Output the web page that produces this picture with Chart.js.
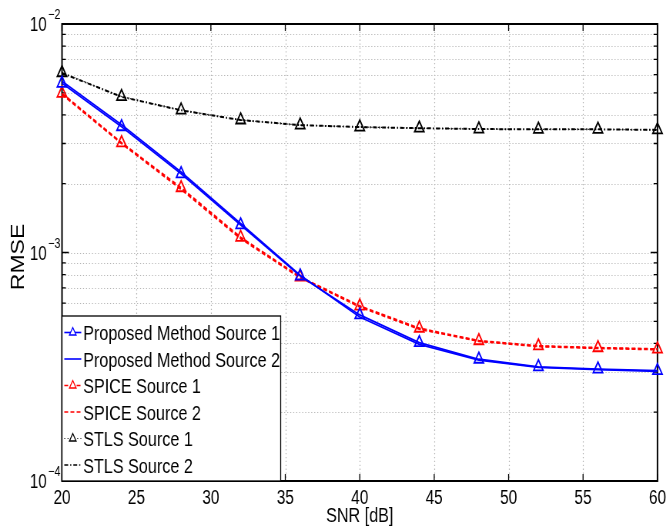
<!DOCTYPE html>
<html>
<head>
<meta charset="utf-8">
<script src="https://cdn.jsdelivr.net/npm/chart.js@4.4.1/dist/chart.umd.min.js"></script>
<style>
  html, body { margin: 0; padding: 0; background: #fff; overflow: hidden; }
  /* figure is laid out wide and squeezed horizontally, like the exported plot */
  #wrap { width: 870px; height: 530px; transform: scaleX(0.77); transform-origin: 0 0; }
</style>
</head>
<body>
<div id="wrap"><canvas id="chart"></canvas></div>
<script>
const snr = [20, 24, 28, 32, 36, 40, 44, 48, 52, 56, 60];

const proposedS1 = [5.50e-3, 3.55e-3, 2.21e-3, 1.32e-3, 7.89e-4, 5.33e-4, 4.03e-4, 3.41e-4, 3.16e-4, 3.09e-4, 3.04e-4];
const proposedS2 = [5.62e-3, 3.62e-3, 2.25e-3, 1.34e-3, 7.95e-4, 5.22e-4, 3.96e-4, 3.38e-4, 3.14e-4, 3.07e-4, 3.02e-4];
const spiceS1 = [4.97e-3, 3.02e-3, 1.92e-3, 1.165e-3, 7.81e-4, 5.83e-4, 4.66e-4, 4.11e-4, 3.90e-4, 3.83e-4, 3.78e-4];
const spiceS2 = [4.92e-3, 3.00e-3, 1.89e-3, 1.15e-3, 7.76e-4, 5.78e-4, 4.62e-4, 4.09e-4, 3.88e-4, 3.81e-4, 3.76e-4];
const stlsS1 = [6.12e-3, 4.81e-3, 4.20e-3, 3.80e-3, 3.61e-3, 3.54e-3, 3.50e-3, 3.47e-3, 3.46e-3, 3.46e-3, 3.44e-3];
const stlsS2 = [6.10e-3, 4.80e-3, 4.19e-3, 3.80e-3, 3.61e-3, 3.54e-3, 3.50e-3, 3.47e-3, 3.46e-3, 3.46e-3, 3.44e-3];

const xTicks = [20, 25, 30, 35, 40, 45, 50, 55, 60];
const yTicks = [
  1e-4, 2e-4, 3e-4, 4e-4, 5e-4, 6e-4, 7e-4, 8e-4, 9e-4,
  1e-3, 2e-3, 3e-3, 4e-3, 5e-3, 6e-3, 7e-3, 8e-3, 9e-3, 1e-2,
];
const yDecades = [1e-4, 1e-3, 1e-2];
const yDecadeExp = ["\u22124", "\u22123", "\u22122"];

const FONT = '"Liberation Sans", Arial, Helvetica, sans-serif';

const pts = (ys) => snr.map((x, i) => ({ x, y: ys[i] }));

function line(label, ys, color, dash, width, marker) {
  return {
    label, data: pts(ys),
    borderColor: color, borderWidth: width, borderDash: dash,
    pointStyle: "triangle", pointRadius: marker ? 7 : 0, pointHoverRadius: 0,
    pointBorderColor: color, pointBorderWidth: 1.8, pointBackgroundColor: "rgba(0,0,0,0)",
    tension: 0, fill: false, clip: false,
  };
}

const DASH = [5, 3];
const DASHDOT = [5, 2.6, 1.5, 2.6];
const DOT = [1.2, 3];

const datasets = [
  line("Proposed Method Source 1", proposedS1, "#0000ff", [], 1.8, true),
  line("Proposed Method Source 2", proposedS2, "#0000ff", [], 1.8, false),
  line("SPICE Source 1", spiceS1, "#ff0000", DASH, 2, true),
  line("SPICE Source 2", spiceS2, "#ff0000", DASH, 2, false),
  line("STLS Source 1", stlsS1, "#000000", DOT, 1.2, true),
  line("STLS Source 2", stlsS2, "#000000", DASHDOT, 2, false),
];

// grid, inner tick marks and the axes box
const frame = {
  id: "frame",
  beforeDatasetsDraw(chart) {
    const { ctx, chartArea: a, scales: { x, y } } = chart;
    ctx.save();
    ctx.strokeStyle = "#b4b4b4";
    ctx.lineWidth = 1.2;
    ctx.setLineDash([1.3, 2.6]);
    for (const v of xTicks.slice(1, -1)) {
      const px = Math.round(x.getPixelForValue(v)) + 0.5;
      ctx.beginPath(); ctx.moveTo(px, a.top); ctx.lineTo(px, a.bottom); ctx.stroke();
    }
    for (const v of yTicks.slice(1, -1)) {
      const py = Math.round(y.getPixelForValue(v)) + 0.5;
      ctx.beginPath(); ctx.moveTo(a.left, py); ctx.lineTo(a.right, py); ctx.stroke();
    }
    ctx.setLineDash([]);
    ctx.strokeStyle = "#000";
    ctx.lineWidth = 1.3;
    for (const v of yTicks) {
      const py = y.getPixelForValue(v);
      const len = yDecades.includes(v) ? 9 : 5;
      ctx.beginPath();
      ctx.moveTo(a.left, py); ctx.lineTo(a.left + len, py);
      ctx.moveTo(a.right, py); ctx.lineTo(a.right - len, py);
      ctx.stroke();
    }
    for (const v of xTicks) {
      const px = x.getPixelForValue(v);
      ctx.beginPath();
      ctx.moveTo(px, a.bottom); ctx.lineTo(px, a.bottom - 7);
      ctx.moveTo(px, a.top); ctx.lineTo(px, a.top + 7);
      ctx.stroke();
    }
    ctx.lineWidth = 2;
    ctx.strokeRect(a.left, a.top, a.right - a.left, a.bottom - a.top);
    ctx.restore();
  },
  afterDraw(chart) {
    const { ctx, chartArea: a, scales: { y } } = chart;
    ctx.save();
    ctx.fillStyle = "#000";

    // 10^n labels on the log axis
    ctx.textAlign = "right";
    ctx.textBaseline = "alphabetic";
    yDecades.forEach((v, i) => {
      const py = y.getPixelForValue(v);
      ctx.font = `19.5px ${FONT}`;
      ctx.fillText("10", a.left - 20, py + 7);
      ctx.font = `14px ${FONT}`;
      ctx.fillText(yDecadeExp[i], a.left - 2, py - 5);
    });

    // y axis title
    ctx.save();
    ctx.translate(31.3, 257);
    ctx.rotate(-Math.PI / 2);
    ctx.textAlign = "center";
    ctx.font = `23px ${FONT}`;
    ctx.fillText("RMSE", 0, 0);
    ctx.restore();

    // legend in the lower left corner of the axes
    const w = 284, h = 165;
    const left = a.left, top = a.bottom - h;
    ctx.fillStyle = "#fff";
    ctx.fillRect(left, top, w, h);
    ctx.strokeStyle = "#000";
    ctx.lineWidth = 1.3;
    ctx.strokeRect(left, top, w, h);
    ctx.font = `21px ${FONT}`;
    ctx.textAlign = "left";
    chart.data.datasets.forEach((ds, i) => {
      const cy = top + 16.5 + i * 26.5;
      ctx.strokeStyle = ds.borderColor;
      ctx.lineWidth = Math.min(ds.borderWidth, 1.6);
      ctx.setLineDash(ds.borderDash);
      ctx.beginPath(); ctx.moveTo(left + 3, cy); ctx.lineTo(left + 25, cy); ctx.stroke();
      ctx.setLineDash([]);
      if (ds.pointRadius) {
        const r = 5;
        ctx.fillStyle = "#fff";
        ctx.beginPath();
        ctx.moveTo(left + 14, cy - r);
        ctx.lineTo(left + 14 + r * 0.866, cy + r / 2);
        ctx.lineTo(left + 14 - r * 0.866, cy + r / 2);
        ctx.closePath();
        ctx.fill();
        ctx.lineWidth = 1.3;
        ctx.stroke();
      }
      ctx.fillStyle = "#000";
      ctx.fillText(ds.label, left + 27.5, cy + 7.5);
    });
    ctx.restore();
  },
};

new Chart(document.getElementById("chart"), {
  type: "line",
  data: { datasets },
  plugins: [frame],
  options: {
    responsive: true,
    maintainAspectRatio: false,
    animation: false,
    events: [],
    layout: { padding: { top: 24, right: 13, left: 0, bottom: 0 } },
    plugins: { legend: { display: false }, tooltip: { enabled: false } },
    scales: {
      x: {
        type: "linear", min: 20, max: 60,
        afterBuildTicks: (s) => { s.ticks = xTicks.map((v) => ({ value: v })); },
        afterFit: (s) => { s.height = 49; },
        grid: { display: false, drawTicks: false },
        border: { display: false },
        ticks: { color: "#000", font: { family: FONT, size: 20 }, padding: 5, maxRotation: 0 },
        title: {
          display: true, text: "SNR [dB]", color: "#000",
          font: { family: FONT, size: 21 }, padding: { top: 0, bottom: 1 },
        },
      },
      y: {
        type: "logarithmic", min: 1e-4, max: 1e-2,
        afterBuildTicks: (s) => { s.ticks = yTicks.map((v) => ({ value: v })); },
        afterFit: (s) => { s.width = 80.5; },
        grid: { display: false, drawTicks: false },
        border: { display: false },
        ticks: { display: false },
      },
    },
  },
});
</script>
</body>
</html>
